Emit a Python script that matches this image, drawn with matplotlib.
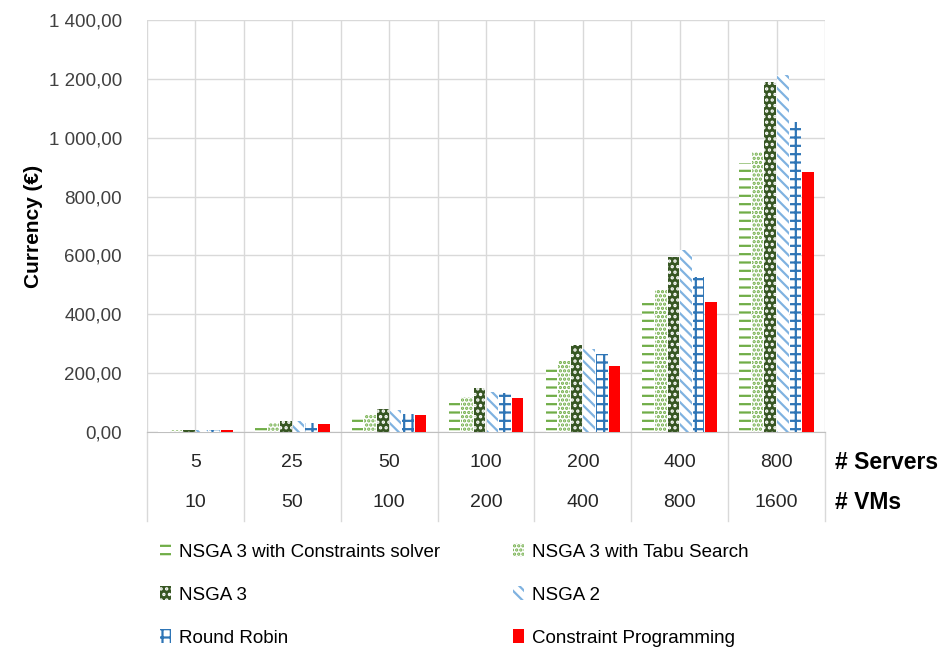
import matplotlib.pyplot as plt
import numpy as np

plt.rcParams['font.family'] = ['Liberation Sans', 'DejaVu Sans']
plt.rcParams['hatch.linewidth'] = 1.6

servers = ["5", "25", "50", "100", "200", "400", "800"]
vms = ["10", "50", "100", "200", "400", "800", "1600"]

cs_solver = [5, 26, 51, 102, 222, 445, 914]
tabu = [6, 32, 62, 119, 241, 482, 951]
nsga3 = [7.5, 38, 77, 149, 296, 595, 1189]
nsga2 = [7, 37, 74, 136, 282, 618, 1213]
round_robin = [6, 32, 60, 132, 265, 527, 1053]
cp = [7, 28, 57, 115, 224, 442, 883]

series = [
    ("NSGA 3 with Constraints solver", cs_solver, dict(facecolor="white", edgecolor="#70AD47", hatch="--")),
    ("NSGA 3 with Tabu Search", tabu, dict(facecolor="white", edgecolor="#70AD47", hatch="....")),
    ("NSGA 3", nsga3, dict(facecolor="#375623", edgecolor="white", hatch="...")),
    ("NSGA 2", nsga2, dict(facecolor="white", edgecolor="#7FB2E0", hatch="\\\\\\")),
    ("Round Robin", round_robin, dict(facecolor="white", edgecolor="#2E75B6", hatch="++")),
    ("Constraint Programming", cp, dict(facecolor="#FF0000", edgecolor="#FF0000")),
]

fig = plt.figure(figsize=(9.46, 6.51), dpi=100)
ax = fig.add_axes([147 / 946, 1 - 432 / 651, 678 / 946, 412 / 651])

x = np.arange(len(servers))
w = 0.13
for i, (name, vals, style) in enumerate(series):
    ax.bar(x + (i - 2.5) * w, vals, w * 0.92, label=name, linewidth=0, zorder=3, **style)

ax.set_xlim(-0.5, len(servers) - 0.5)
ax.set_ylim(0, 1400)
ax.set_yticks(np.arange(0, 1401, 200))
ax.set_yticklabels([f"{v:,.2f}".replace(",", " ").replace(".", ",") for v in np.arange(0, 1401, 200)],
                   fontsize=13.5, color="#404040")
ax.set_xticks(np.arange(-0.5, len(servers), 0.5))
ax.set_xticklabels([])
ax.tick_params(axis="both", length=0)
ax.tick_params(axis="y", pad=18)
ax.grid(True, color="#D9D9D9", linewidth=1, zorder=0)
for s in ["top", "right", "left"]:
    ax.spines[s].set_visible(False)
ax.spines["bottom"].set_color("#BFBFBF")
ax.set_ylabel("Currency (€)", fontsize=15, fontweight="bold", labelpad=4)

# two-level category axis
trans = ax.get_xaxis_transform()
for i in range(len(servers)):
    ax.text(i, -0.075, servers[i], transform=trans, ha="center", va="center", fontsize=14, color="#262626")
    ax.text(i, -0.17, vms[i], transform=trans, ha="center", va="center", fontsize=14, color="#262626")
for b in np.arange(-0.5, len(servers), 1.0):
    ax.plot([b, b], [0, -0.215], transform=trans, color="#D9D9D9", linewidth=1, clip_on=False)
ax.text(1.015, -0.075, "# Servers", transform=ax.transAxes, ha="left", va="center", fontsize=16.5, fontweight="bold")
ax.text(1.015, -0.17, "# VMs", transform=ax.transAxes, ha="left", va="center", fontsize=16.5, fontweight="bold")

handles, labels = ax.get_legend_handles_labels()
order = [0, 2, 4, 1, 3, 5]
fig.legend([handles[k] for k in order], [labels[k] for k in order],
           loc="upper left", bbox_to_anchor=(143 / 946, 1 - 526 / 651), ncol=2, frameon=False,
           fontsize=13.5, handlelength=0.6, handleheight=0.8, handletextpad=0.4,
           columnspacing=3.9, labelspacing=1.35)

fig.savefig("out.png", dpi=100)
